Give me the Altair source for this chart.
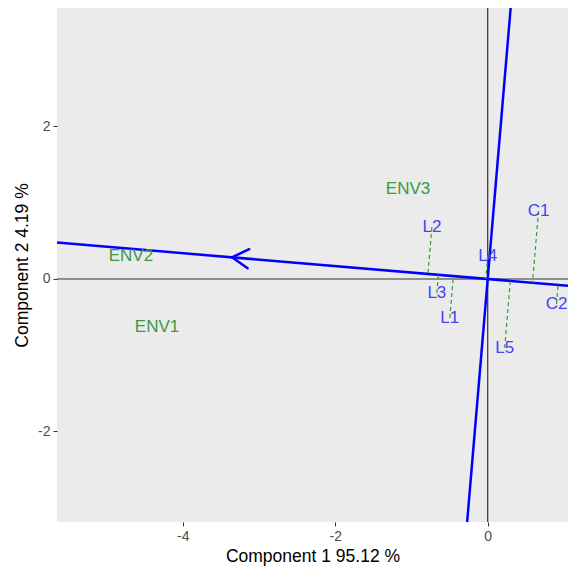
import altair as alt
import pandas as pd
import numpy as np

# Genotype scores
gen_names = ["L1", "L2", "L3", "L4", "L5", "C1", "C2"]
gen_x = [-0.497, -0.732, -0.667, 0.0, 0.222, 0.667, 0.902]
gen_y = [-0.511, 0.682, -0.183, 0.301, -0.904, 0.891, -0.328]

# Environment scores
env_names = ["ENV1", "ENV2", "ENV3"]
env_x = [-4.337, -4.680, -1.045]
env_y = [-0.630, 0.302, 1.180]

x_ticks = [-4, -2, 0]
y_ticks = [-2, 0, 2]
x_dom = [-5.649, 1.053]
y_dom = [-3.187, 3.554]

x_title = "Component 1 95.12 %"
y_title = "Component 2 4.19 %"

GEN_COL = "#4343f5"
ENV_COL = "#3a9a3a"
FONT = "Liberation Sans"

# derived geometry
m = np.array([np.mean(env_x), np.mean(env_y)])
slope = m[1] / m[0]

gen = pd.DataFrame({"name": gen_names, "x": gen_x, "y": gen_y})
env = pd.DataFrame({"name": env_names, "x": env_x, "y": env_y})

# projections of genotypes on the AEC abscissa
gv = gen[["x", "y"]].to_numpy()
proj = (gv @ m / (m @ m))[:, None] * m[None, :]
gen["px"] = proj[:, 0]
gen["py"] = proj[:, 1]

# AEC abscissa and ordinate lines
lines = pd.DataFrame({
    "x": [x_dom[0], -slope * y_dom[0]],
    "y": [slope * x_dom[0], y_dom[0]],
    "x2": [x_dom[1], -slope * y_dom[1]],
    "y2": [slope * x_dom[1], y_dom[1]],
})

# arrow from origin to mean env
u = m / np.linalg.norm(m)
L = 0.25
arms = []
for a in (np.pi / 6, -np.pi / 6):
    R = np.array([[np.cos(a), -np.sin(a)], [np.sin(a), np.cos(a)]])
    e = m - L * (R @ u)
    arms.append({"x": m[0], "y": m[1], "x2": e[0], "y2": e[1]})
arms = pd.DataFrame(arms)

zero = pd.DataFrame({"v": [0]})

xs = alt.Scale(domain=x_dom, nice=False, zero=False)
ys = alt.Scale(domain=y_dom, nice=False, zero=False)
xax = alt.Axis(values=x_ticks, labelExpr="'' + datum.value", title=x_title,
               titleY=34, titleBaseline="middle")
yax = alt.Axis(values=y_ticks, labelExpr="'' + datum.value", title=y_title,
               titleX=-35, titleBaseline="middle", titleAngle=-90)

hline = alt.Chart(zero).mark_rule(color="#333333", strokeWidth=1.2).encode(
    y=alt.Y("v:Q", scale=ys, axis=yax))
vline = alt.Chart(zero).mark_rule(color="#333333", strokeWidth=1.2).encode(
    x=alt.X("v:Q", scale=xs, axis=xax))

blue = alt.Chart(lines).mark_rule(color="#0000ff", strokeWidth=2.5, clip=True).encode(
    x=alt.X("x:Q", scale=xs), y=alt.Y("y:Q", scale=ys), x2="x2:Q", y2="y2:Q")

arrow = alt.Chart(arms).mark_rule(color="#0000ff", strokeWidth=2.5, strokeCap="round").encode(
    x=alt.X("x:Q", scale=xs), y=alt.Y("y:Q", scale=ys), x2="x2:Q", y2="y2:Q")

dashed = alt.Chart(gen).mark_rule(color=ENV_COL, strokeWidth=1.2, strokeDash=[4, 3]).encode(
    x=alt.X("x:Q", scale=xs), y=alt.Y("y:Q", scale=ys), x2="px:Q", y2="py:Q")

gtext = alt.Chart(gen).mark_text(font=FONT, fontSize=17, color=GEN_COL,
                                 align="center", baseline="middle").encode(
    x=alt.X("x:Q", scale=xs), y=alt.Y("y:Q", scale=ys), text="name:N")

etext = alt.Chart(env).mark_text(font=FONT, fontSize=17, color=ENV_COL,
                                 align="center", baseline="middle").encode(
    x=alt.X("x:Q", scale=xs), y=alt.Y("y:Q", scale=ys), text="name:N")

chart = alt.layer(hline, vline, blue, dashed, gtext, etext, arrow).properties(
    width=511, height=514, autosize="none",
    padding={"left": 49, "top": 0, "right": 0, "bottom": 46},
).configure_view(fill="#EBEBEB", stroke=None).configure_axis(
    grid=False, domain=False, labelFont=FONT, labelFontSize=14, labelColor="#4D4D4D",
    tickColor="#333333", tickSize=4, labelPadding=3, titleFont=FONT, titleFontSize=17.5,
    titleFontWeight="normal", titleColor="black")

chart.save("out.html", embed_options={"renderer": "svg", "actions": False})
